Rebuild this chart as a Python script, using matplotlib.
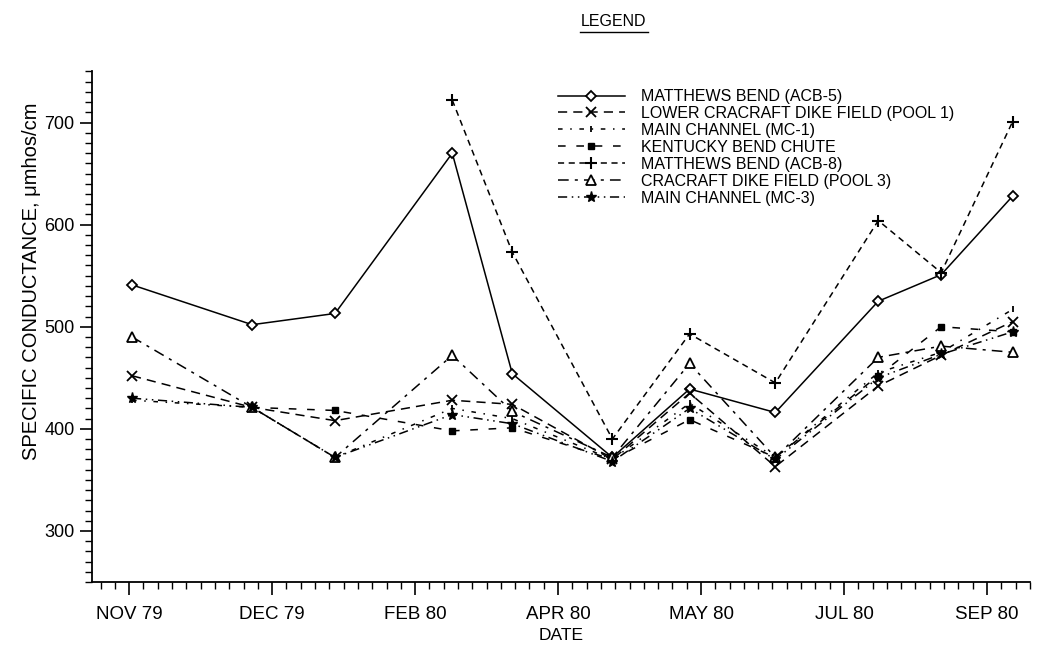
import numpy as np
import matplotlib
matplotlib.use("Agg")
import matplotlib.pyplot as plt
from matplotlib.ticker import MultipleLocator, FixedLocator
from matplotlib.lines import Line2D

plt.rcParams['font.family'] = ['Liberation Sans', 'DejaVu Sans']

nan = np.nan

# sampling dates, days after the NOV 79 tick
sample_day = [1, 43, 72, 113, 134, 169, 196, 226, 262, 284, 309]

tick_days = [0, 50, 100, 150, 200, 250, 300]
tick_labels = ["NOV 79", "DEC 79", "FEB 80", "APR 80", "MAY 80", "JUL 80", "SEP 80"]

acb5 = [541, 502, 513, 670, 454, 372, 439, 416, 525, 551, 628]
pool1 = [452, 421, 408, 428, 424, 370, 435, 363, 442, 472, 505]
mc1 = [428, 421, 372, 420, 410, 370, 425, 372, 455, 475, 517]
kentucky = [nan, 421, 418, 398, 401, 370, 409, 372, 452, 500, 495]
acb8 = [nan, nan, nan, 722, 573, 390, 493, 445, 604, 553, 701]
pool3 = [490, 421, 372, 472, 417, 372, 464, 372, 470, 481, 475]
mc3 = [430, 421, 372, 414, 405, 368, 420, 370, 450, 473, 495]

names = ["MATTHEWS BEND (ACB-5)",
         "LOWER CRACRAFT DIKE FIELD (POOL 1)",
         "MAIN CHANNEL (MC-1)",
         "KENTUCKY BEND CHUTE",
         "MATTHEWS BEND (ACB-8)",
         "CRACRAFT DIKE FIELD (POOL 3)",
         "MAIN CHANNEL (MC-3)"]

fig = plt.figure(figsize=(10.42, 6.47), dpi=100)
ax = fig.add_axes([0.0883, 0.1005, 0.9, 0.789])

k = dict(color="black", lw=1.1)
ax.plot(sample_day, acb5, ls="-", marker="D", ms=5.5, mfc="white", mew=1.3, label=names[0], **k)
ax.plot(sample_day, pool1, ls=(0, (6, 4)), marker="x", ms=7, mew=1.3, label=names[1], **k)
ax.plot(sample_day, mc1, ls=(0, (3, 5, 1, 5)), marker="|", ms=5, mew=1.3, label=names[2], **k)
ax.plot(sample_day, kentucky, ls=(0, (5, 7)), marker="s", ms=5, label=names[3], **k)
ax.plot(sample_day, acb8, ls=(0, (4, 3)), marker="+", ms=8, mew=1.5, label=names[4], **k)
ax.plot(sample_day, pool3, ls=(0, (7, 4, 2, 4)), marker="^", ms=6.5, mfc="white", mew=1.3, label=names[5], **k)
ax.plot(sample_day, mc3, ls=(0, (6, 3, 1, 3, 1, 3)), marker="*", ms=8, label=names[6], **k)

ax.set_xlim(-13, 315)
ax.set_ylim(250, 750)

ax.spines['top'].set_visible(False)
ax.spines['right'].set_visible(False)
ax.spines['left'].set_linewidth(1.3)
ax.spines['bottom'].set_linewidth(1.3)

ax.xaxis.set_major_locator(FixedLocator(tick_days))
ax.set_xticklabels(tick_labels)
ax.xaxis.set_minor_locator(MultipleLocator(5))
ax.yaxis.set_major_locator(FixedLocator([300, 400, 500, 600, 700]))
ax.yaxis.set_minor_locator(MultipleLocator(10))
ax.tick_params(axis='both', which='major', length=9, width=1.2, direction='out')
ax.tick_params(axis='both', which='minor', length=5, width=1.0, direction='out')
ax.tick_params(axis='x', labelsize=13.5, pad=8)
ax.tick_params(axis='y', labelsize=13)

ax.set_xlabel("DATE", fontsize=12.5, labelpad=4)
ax.set_ylabel("SPECIFIC CONDUCTANCE, \u03bcmhos/cm", fontsize=14.5)
ax.yaxis.set_label_coords(-0.054, 0.59)

leg = ax.legend(loc="upper left", bbox_to_anchor=(0.49, 0.978), frameon=False,
                fontsize=11.5, handlelength=4.2, handletextpad=1.0,
                labelspacing=0.12, borderaxespad=0)

fig.text(0.589, 0.966, "LEGEND", fontsize=11.5, ha="center", va="center")
fig.add_artist(Line2D([0.557, 0.622], [0.950, 0.950], color="black", lw=1.0,
                      transform=fig.transFigure))

fig.savefig("out.png", dpi=100)
